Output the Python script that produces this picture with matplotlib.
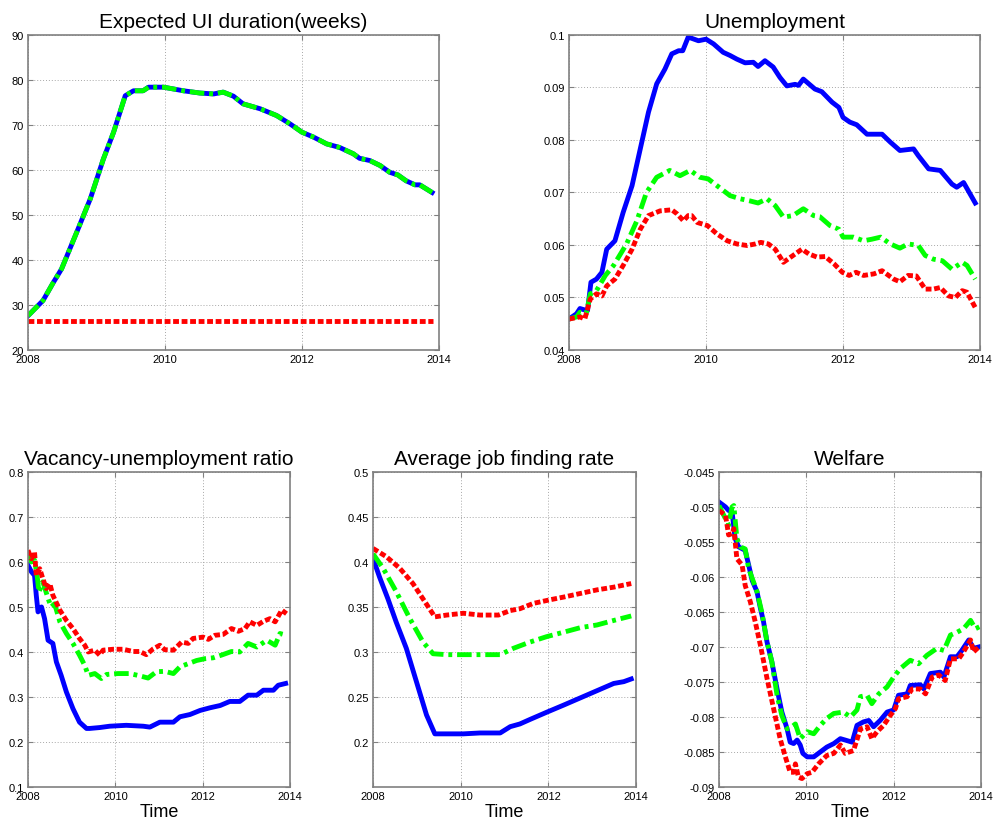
import matplotlib
matplotlib.use("Agg")
import matplotlib.pyplot as plt

plt.rcParams['font.family'] = ['Liberation Sans', 'DejaVu Sans']

BLUE = '#0000ff'
GREEN = '#00ff00'
RED = '#ff0000'

# ---------------- Expected UI duration (weeks) ----------------
ui_t = [2008.0, 2008.22, 2008.37, 2008.49, 2008.71, 2008.91, 2009.10, 2009.25, 2009.42,
        2009.54, 2009.68, 2009.76, 2009.98, 2010.27, 2010.51, 2010.71, 2010.85, 2011.0,
        2011.14, 2011.39, 2011.63, 2011.83, 2012.0, 2012.17, 2012.36, 2012.55, 2012.75,
        2012.84, 2012.99, 2013.14, 2013.28, 2013.40, 2013.52, 2013.65, 2013.72, 2013.90]
ui_ext = [27.6, 31.0, 35.0, 38.0, 46.1, 53.6, 62.4, 68.4, 76.5,
          77.6, 77.6, 78.4, 78.4, 77.6, 77.1, 76.9, 77.3, 76.4,
          74.7, 73.6, 72.1, 70.2, 68.4, 67.3, 65.8, 65.0, 63.6,
          62.6, 62.1, 61.0, 59.5, 58.9, 57.6, 56.7, 56.7, 55.0]
ui_base_t = [2008.0, 2013.92]
ui_base = [26.4, 26.4]

# ---------------- Unemployment ----------------
un_blue_t = [2008.0, 2008.11, 2008.16, 2008.21, 2008.27, 2008.32, 2008.40, 2008.48, 2008.55,
             2008.67, 2008.79, 2008.92, 2009.04, 2009.16, 2009.28, 2009.40, 2009.50, 2009.60,
             2009.66, 2009.74, 2009.89, 2010.0, 2010.11, 2010.25, 2010.35, 2010.45, 2010.57,
             2010.69, 2010.76, 2010.86, 2010.98, 2011.08, 2011.18, 2011.30, 2011.35, 2011.42,
             2011.59, 2011.69, 2011.84, 2011.94, 2012.0, 2012.10, 2012.20, 2012.35, 2012.47,
             2012.57, 2012.69, 2012.83, 2013.03, 2013.10, 2013.25, 2013.42, 2013.59, 2013.66,
             2013.76, 2013.93]
un_blue = [0.0459, 0.0469, 0.0479, 0.0477, 0.0475, 0.0529, 0.0535, 0.0548, 0.0592,
           0.0608, 0.0662, 0.0713, 0.0783, 0.0853, 0.0907, 0.0935, 0.0964, 0.0970,
           0.0970, 0.0996, 0.0989, 0.0992, 0.0983, 0.0967, 0.0961, 0.0954, 0.0947,
           0.0948, 0.0940, 0.0951, 0.0939, 0.0919, 0.0903, 0.0906, 0.0904, 0.0916,
           0.0897, 0.0892, 0.0872, 0.0862, 0.0843, 0.0834, 0.0829, 0.0811, 0.0811,
           0.0811, 0.0796, 0.0780, 0.0783, 0.0770, 0.0745, 0.0742, 0.0716, 0.0710,
           0.0719, 0.0680]
un_green_t = [2008.0, 2008.11, 2008.16, 2008.25, 2008.31, 2008.40, 2008.53, 2008.65, 2008.84,
              2008.99, 2009.13, 2009.28, 2009.47, 2009.62, 2009.77, 2009.91, 2010.03, 2010.16,
              2010.35, 2010.50, 2010.64, 2010.76, 2010.89, 2011.01, 2011.13, 2011.27, 2011.42,
              2011.57, 2011.66, 2011.81, 2011.94, 2012.0, 2012.15, 2012.30, 2012.42, 2012.55,
              2012.69, 2012.83, 2012.95, 2013.10, 2013.20, 2013.32, 2013.45, 2013.59, 2013.74,
              2013.81, 2013.93]
un_green = [0.0459, 0.0463, 0.0472, 0.0469, 0.0507, 0.0513, 0.0542, 0.0561, 0.0602,
            0.0646, 0.0700, 0.0729, 0.0742, 0.0732, 0.0742, 0.0729, 0.0726, 0.0713,
            0.0694, 0.0688, 0.0684, 0.0680, 0.0688, 0.0675, 0.0653, 0.0656, 0.0669,
            0.0656, 0.0654, 0.0637, 0.0630, 0.0615, 0.0615, 0.0608, 0.0611, 0.0615,
            0.0602, 0.0594, 0.0602, 0.0599, 0.0580, 0.0573, 0.0570, 0.0554, 0.0567,
            0.0561, 0.0535]
un_red_t = [2008.0, 2008.16, 2008.23, 2008.31, 2008.40, 2008.48, 2008.55, 2008.67, 2008.79,
            2008.92, 2009.04, 2009.16, 2009.33, 2009.50, 2009.58, 2009.67, 2009.74, 2009.79,
            2009.87, 2010.02, 2010.16, 2010.31, 2010.45, 2010.60, 2010.72, 2010.80, 2010.91,
            2011.01, 2011.13, 2011.27, 2011.40, 2011.50, 2011.62, 2011.74, 2011.87, 2011.99,
            2012.09, 2012.19, 2012.30, 2012.45, 2012.57, 2012.74, 2012.83, 2012.95, 2013.07,
            2013.20, 2013.32, 2013.42, 2013.54, 2013.64, 2013.74, 2013.81, 2013.93]
un_red = [0.0459, 0.0463, 0.0459, 0.0497, 0.0507, 0.0503, 0.0522, 0.0535, 0.0561,
          0.0592, 0.0630, 0.0656, 0.0665, 0.0667, 0.0659, 0.0646, 0.0656, 0.0656,
          0.0643, 0.0637, 0.0621, 0.0608, 0.0602, 0.0599, 0.0602, 0.0605, 0.0602,
          0.0592, 0.0567, 0.0580, 0.0592, 0.0583, 0.0577, 0.0578, 0.0564, 0.0548,
          0.0542, 0.0548, 0.0542, 0.0545, 0.0551, 0.0535, 0.0530, 0.0542, 0.0541,
          0.0516, 0.0516, 0.0519, 0.0503, 0.0500, 0.0513, 0.0510, 0.0481]

# ---------------- Vacancy-unemployment ratio ----------------
vu_blue_t = [2008.0, 2008.08, 2008.15, 2008.19, 2008.23, 2008.31, 2008.38, 2008.46, 2008.57,
             2008.65, 2008.76, 2008.88, 2009.03, 2009.18, 2009.34, 2009.41, 2009.64, 2009.87,
             2010.25, 2010.64, 2010.79, 2011.02, 2011.33, 2011.48, 2011.71, 2011.94, 2012.17,
             2012.40, 2012.62, 2012.85, 2013.04, 2013.24, 2013.39, 2013.62, 2013.73, 2013.90]
vu_blue = [0.593, 0.578, 0.570, 0.526, 0.489, 0.500, 0.474, 0.426, 0.419,
           0.378, 0.348, 0.311, 0.274, 0.244, 0.230, 0.230, 0.232, 0.235,
           0.237, 0.235, 0.233, 0.244, 0.244, 0.256, 0.261, 0.270, 0.276,
           0.281, 0.290, 0.290, 0.304, 0.304, 0.315, 0.315, 0.326, 0.330]
vu_green_t = [2008.0, 2008.08, 2008.15, 2008.21, 2008.25, 2008.34, 2008.46, 2008.53, 2008.61,
              2008.73, 2008.88, 2009.03, 2009.18, 2009.30, 2009.38, 2009.53, 2009.68, 2009.80,
              2010.06, 2010.33, 2010.56, 2010.75, 2010.94, 2011.13, 2011.33, 2011.48, 2011.67,
              2011.86, 2012.05, 2012.24, 2012.43, 2012.66, 2012.85, 2013.04, 2013.24, 2013.47,
              2013.66, 2013.77, 2013.92]
vu_green = [0.622, 0.600, 0.604, 0.570, 0.533, 0.556, 0.519, 0.500, 0.507,
            0.467, 0.441, 0.419, 0.393, 0.370, 0.348, 0.352, 0.341, 0.350,
            0.352, 0.352, 0.347, 0.342, 0.356, 0.357, 0.352, 0.367, 0.374,
            0.381, 0.385, 0.387, 0.393, 0.401, 0.400, 0.419, 0.411, 0.426,
            0.415, 0.441, 0.437]
vu_red_t = [2008.0, 2008.08, 2008.15, 2008.19, 2008.27, 2008.34, 2008.42, 2008.50, 2008.57,
            2008.73, 2008.88, 2009.03, 2009.18, 2009.30, 2009.38, 2009.53, 2009.64, 2009.72,
            2009.95, 2010.18, 2010.41, 2010.56, 2010.71, 2010.87, 2011.02, 2011.13, 2011.33,
            2011.52, 2011.67, 2011.78, 2012.01, 2012.13, 2012.28, 2012.47, 2012.66, 2012.82,
            2012.97, 2013.08, 2013.24, 2013.39, 2013.54, 2013.66, 2013.81, 2013.92]
vu_red = [0.626, 0.607, 0.622, 0.570, 0.585, 0.563, 0.541, 0.552, 0.526,
          0.493, 0.470, 0.452, 0.430, 0.415, 0.400, 0.404, 0.393, 0.404,
          0.406, 0.406, 0.401, 0.401, 0.394, 0.407, 0.415, 0.405, 0.404,
          0.422, 0.419, 0.430, 0.433, 0.428, 0.437, 0.439, 0.452, 0.446,
          0.452, 0.467, 0.459, 0.468, 0.474, 0.467, 0.493, 0.485]

# ---------------- Average job finding rate ----------------
jf_blue_t = [2008.0, 2008.15, 2008.34, 2008.53, 2008.76, 2008.99, 2009.22, 2009.41, 2009.68,
             2010.06, 2010.44, 2010.90, 2011.13, 2011.35, 2011.58, 2011.96, 2012.35, 2012.73,
             2013.11, 2013.49, 2013.72, 2013.89]
jf_blue = [0.404, 0.383, 0.359, 0.333, 0.304, 0.267, 0.230, 0.209, 0.209,
           0.209, 0.210, 0.210, 0.217, 0.220, 0.225, 0.233, 0.241, 0.249,
           0.257, 0.265, 0.267, 0.270]
jf_green_t = [2008.0, 2008.23, 2008.53, 2008.84, 2009.14, 2009.37, 2009.68, 2010.06, 2010.44,
              2010.90, 2011.20, 2011.58, 2011.96, 2012.35, 2012.73, 2013.11, 2013.49, 2013.89]
jf_green = [0.409, 0.393, 0.367, 0.337, 0.311, 0.298, 0.297, 0.297, 0.297,
            0.297, 0.304, 0.311, 0.317, 0.322, 0.327, 0.330, 0.335, 0.340]
jf_red_t = [2008.0, 2008.30, 2008.61, 2008.91, 2009.14, 2009.41, 2009.68, 2010.06, 2010.44,
            2010.86, 2011.13, 2011.35, 2011.66, 2012.04, 2012.35, 2012.73, 2013.11, 2013.49,
            2013.89]
jf_red = [0.415, 0.406, 0.393, 0.376, 0.359, 0.339, 0.341, 0.343, 0.341,
          0.341, 0.346, 0.348, 0.354, 0.358, 0.361, 0.365, 0.369, 0.372,
          0.376]

# ---------------- Welfare ----------------
wf_blue_t = [2008.0, 2008.15, 2008.22, 2008.30, 2008.37, 2008.45, 2008.60, 2008.68, 2008.76,
             2008.87, 2008.95, 2009.02, 2009.10, 2009.21, 2009.33, 2009.44, 2009.56, 2009.63,
             2009.71, 2009.79, 2009.86, 2009.92, 2010.02, 2010.17, 2010.32, 2010.47, 2010.63,
             2010.78, 2010.89, 2011.05, 2011.16, 2011.31, 2011.43, 2011.54, 2011.69, 2011.85,
             2012.0, 2012.11, 2012.31, 2012.38, 2012.61, 2012.69, 2012.84, 2013.07, 2013.15,
             2013.30, 2013.45, 2013.56, 2013.72, 2013.83, 2013.95]
wf_blue = [-0.0493, -0.0500, -0.0505, -0.0507, -0.0545, -0.0557, -0.0562, -0.0583, -0.0605,
           -0.0621, -0.0645, -0.0664, -0.0693, -0.0721, -0.0760, -0.0793, -0.0817, -0.0836,
           -0.0838, -0.0833, -0.0840, -0.0852, -0.0857, -0.0857, -0.0850, -0.0843, -0.0838,
           -0.0831, -0.0833, -0.0836, -0.0812, -0.0807, -0.0805, -0.0814, -0.0805, -0.0793,
           -0.0790, -0.0769, -0.0767, -0.0755, -0.0754, -0.0760, -0.0738, -0.0736, -0.0743,
           -0.0714, -0.0714, -0.0705, -0.0690, -0.0702, -0.0700]
wf_green_t = [2008.0, 2008.15, 2008.22, 2008.30, 2008.34, 2008.41, 2008.49, 2008.60, 2008.68,
              2008.79, 2008.87, 2008.98, 2009.10, 2009.21, 2009.33, 2009.44, 2009.56, 2009.67,
              2009.75, 2009.86, 2010.02, 2010.17, 2010.32, 2010.47, 2010.63, 2010.85, 2011.01,
              2011.16, 2011.24, 2011.39, 2011.50, 2011.66, 2011.85, 2012.0, 2012.15, 2012.38,
              2012.57, 2012.76, 2012.99, 2013.15, 2013.30, 2013.45, 2013.60, 2013.76, 2013.87,
              2013.97]
wf_green = [-0.0498, -0.0517, -0.0526, -0.0500, -0.0498, -0.0545, -0.0557, -0.0560, -0.0588,
            -0.0607, -0.0621, -0.0650, -0.0693, -0.0721, -0.0769, -0.0798, -0.0817, -0.0814,
            -0.0810, -0.0831, -0.0821, -0.0824, -0.0812, -0.0802, -0.0795, -0.0793, -0.0800,
            -0.0790, -0.0771, -0.0769, -0.0781, -0.0767, -0.0757, -0.0743, -0.0731, -0.0719,
            -0.0724, -0.0712, -0.0702, -0.0705, -0.0683, -0.0679, -0.0674, -0.0662, -0.0674,
            -0.0671]
wf_red_t = [2008.0, 2008.15, 2008.22, 2008.30, 2008.34, 2008.41, 2008.53, 2008.60, 2008.72,
            2008.83, 2008.95, 2009.10, 2009.25, 2009.40, 2009.52, 2009.63, 2009.71, 2009.75,
            2009.82, 2009.90, 2010.02, 2010.13, 2010.28, 2010.47, 2010.63, 2010.78, 2010.89,
            2011.08, 2011.24, 2011.39, 2011.50, 2011.62, 2011.77, 2011.92, 2012.04, 2012.11,
            2012.31, 2012.42, 2012.61, 2012.73, 2012.88, 2013.03, 2013.18, 2013.30, 2013.49,
            2013.60, 2013.76, 2013.83, 2013.95]
wf_red = [-0.0505, -0.0512, -0.0540, -0.0538, -0.0531, -0.0574, -0.0583, -0.0612, -0.0636,
          -0.0664, -0.0698, -0.0745, -0.0788, -0.0831, -0.0857, -0.0879, -0.0879, -0.0867,
          -0.0886, -0.0888, -0.0881, -0.0879, -0.0867, -0.0855, -0.0852, -0.0840, -0.0852,
          -0.0848, -0.0817, -0.0814, -0.0831, -0.0821, -0.0812, -0.0798, -0.0788, -0.0774,
          -0.0771, -0.0760, -0.0760, -0.0767, -0.0743, -0.0740, -0.0748, -0.0717, -0.0717,
          -0.0707, -0.0690, -0.0707, -0.0700]

year_ticks = [2008, 2010, 2012, 2014]

LW = 3.5
SOLID = dict(color=BLUE, lw=LW, solid_joinstyle='round')
DASHDOT = dict(color=GREEN, lw=LW, dashes=(3.0, 1.0, 0.8, 1.0), dash_capstyle='butt')
DOTTED = dict(color=RED, lw=LW, dashes=(1.2, 0.55), dash_capstyle='butt')

fig = plt.figure(figsize=(9.99, 8.29), dpi=100)


def style_axes(ax, title, ylim, yticks, yticklabels, xlabel=None):
    ax.set_xlim(2008, 2014)
    ax.set_ylim(*ylim)
    ax.set_xticks(year_ticks)
    ax.set_xticklabels([str(y) for y in year_ticks])
    ax.set_yticks(yticks)
    ax.set_yticklabels(yticklabels)
    ax.grid(True, color='#a8a8a8', linestyle=(0, (1, 2)), linewidth=0.7)
    ax.set_axisbelow(True)
    for s in ax.spines.values():
        s.set_color('#808080')
        s.set_linewidth(1.2)
    ax.tick_params(direction='in', length=3.5, width=0.8, color='#808080',
                   labelsize=8, labelcolor='black', pad=3,
                   top=True, right=True)
    ax.set_title(title, fontsize=15, pad=6)
    if xlabel:
        ax.set_xlabel(xlabel, fontsize=13, labelpad=1)


# Top row
ax1 = fig.add_axes([0.028, 0.5766, 0.4114, 0.38])
ax1.plot(ui_t, ui_ext, **SOLID)
ax1.plot(ui_t, ui_ext, **DASHDOT)
ax1.plot(ui_base_t, ui_base, **DOTTED)
style_axes(ax1, 'Expected UI duration(weeks)', (20, 90),
           [20, 30, 40, 50, 60, 70, 80, 90],
           ['20', '30', '40', '50', '60', '70', '80', '90'])

ax2 = fig.add_axes([0.5696, 0.5766, 0.4114, 0.38])
ax2.plot(un_blue_t, un_blue, **SOLID)
ax2.plot(un_green_t, un_green, **DASHDOT)
ax2.plot(un_red_t, un_red, **DOTTED)
style_axes(ax2, 'Unemployment', (0.04, 0.1),
           [0.04, 0.05, 0.06, 0.07, 0.08, 0.09, 0.1],
           ['0.04', '0.05', '0.06', '0.07', '0.08', '0.09', '0.1'])

# Bottom row
ax3 = fig.add_axes([0.028, 0.0495, 0.2623, 0.38])
ax3.plot(vu_blue_t, vu_blue, **SOLID)
ax3.plot(vu_green_t, vu_green, **DASHDOT)
ax3.plot(vu_red_t, vu_red, **DOTTED)
style_axes(ax3, 'Vacancy-unemployment ratio', (0.1, 0.8),
           [0.1, 0.2, 0.3, 0.4, 0.5, 0.6, 0.7, 0.8],
           ['0.1', '0.2', '0.3', '0.4', '0.5', '0.6', '0.7', '0.8'], xlabel='Time')

ax4 = fig.add_axes([0.3734, 0.0495, 0.2633, 0.38])
ax4.plot(jf_blue_t, jf_blue, **SOLID)
ax4.plot(jf_green_t, jf_green, **DASHDOT)
ax4.plot(jf_red_t, jf_red, **DOTTED)
style_axes(ax4, 'Average job finding rate', (0.15, 0.5),
           [0.2, 0.25, 0.3, 0.35, 0.4, 0.45, 0.5],
           ['0.2', '0.25', '0.3', '0.35', '0.4', '0.45', '0.5'], xlabel='Time')

ax5 = fig.add_axes([0.7197, 0.0495, 0.2623, 0.38])
ax5.plot(wf_blue_t, wf_blue, **SOLID)
ax5.plot(wf_green_t, wf_green, **DASHDOT)
ax5.plot(wf_red_t, wf_red, **DOTTED)
style_axes(ax5, 'Welfare', (-0.09, -0.045),
           [-0.09, -0.085, -0.08, -0.075, -0.07, -0.065, -0.06, -0.055, -0.05, -0.045],
           ['-0.09', '-0.085', '-0.08', '-0.075', '-0.07', '-0.065', '-0.06', '-0.055',
            '-0.05', '-0.045'], xlabel='Time')

fig.savefig('out.png', dpi=100, facecolor='white')
